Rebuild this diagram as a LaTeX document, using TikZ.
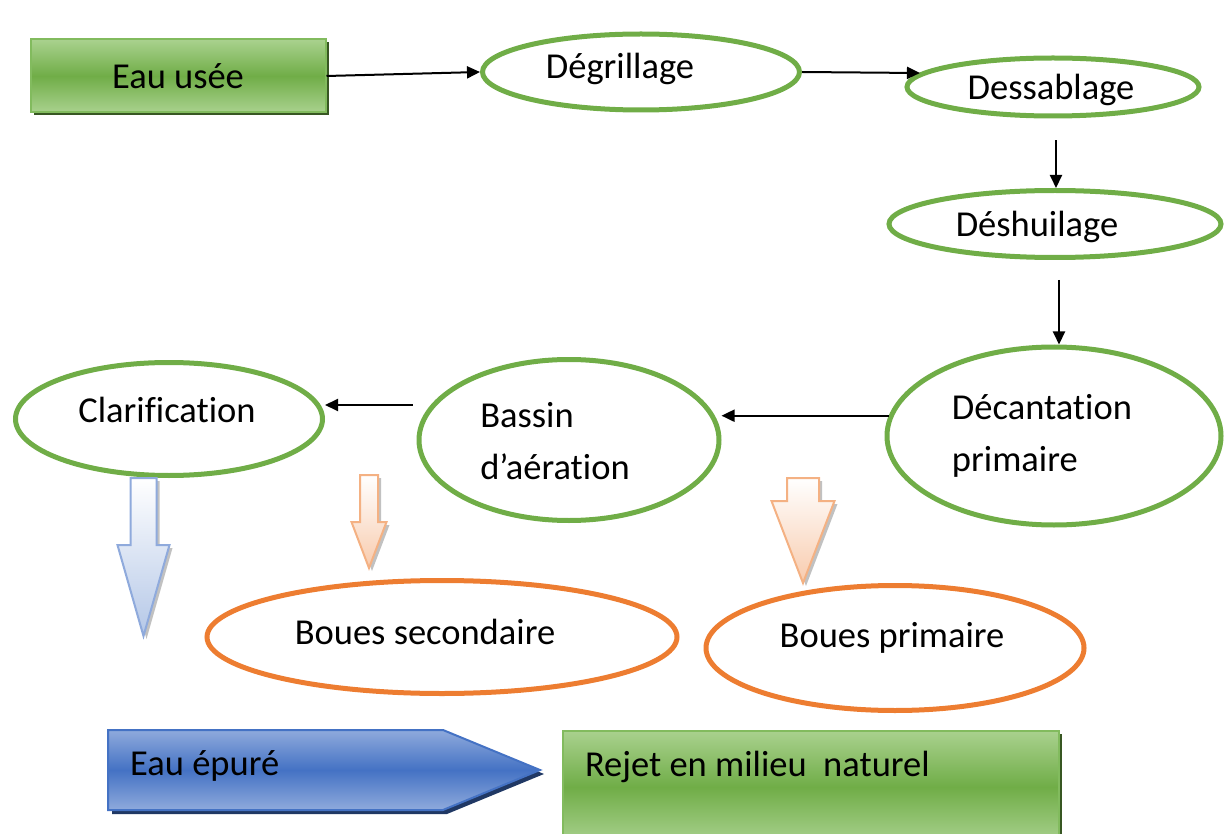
\documentclass[tikz,border=0pt]{standalone}
\usepackage{fontspec}
\setmainfont{Carlito}[Ligatures=NoCommon]
\usepackage{tikz}
\usetikzlibrary{shapes.geometric,shadows,arrows.meta}
\definecolor{leafgreen}{HTML}{70AD47}
\definecolor{lightgreen}{HTML}{A9D18E}
\definecolor{boxedge}{HTML}{82BB5E}
\definecolor{darkgreen}{HTML}{385723}
\definecolor{sludgeorange}{HTML}{ED7D31}
\definecolor{skyedge}{HTML}{8FAADC}
\definecolor{skyfill}{HTML}{B4C7E7}
\definecolor{peachedge}{HTML}{F4B183}
\definecolor{peachfill}{HTML}{F8CBAD}
\definecolor{deepblue}{HTML}{4472C4}
\definecolor{navy}{HTML}{203864}
\tikzstyle{stage} = [ellipse, draw=leafgreen, line width=5pt, inner sep=0pt]
\tikzstyle{sludge} = [ellipse, draw=sludgeorange, line width=5pt, inner sep=0pt]
\tikzstyle{tag} = [align=left, inner sep=0pt]
\tikzstyle{greenbox} = [rectangle, draw=boxedge, line width=2pt, top color=lightgreen, bottom color=lightgreen, middle color=leafgreen, drop shadow={shadow xshift=3pt, shadow yshift=-3pt, fill=darkgreen, opacity=1}]
\tikzstyle{arrow} = [line width=2pt,->,>={Triangle[length=13pt,width=12pt]}]
\tikzstyle{bluedrop} = [draw=skyedge, line width=2pt, top color=white, bottom color=skyfill, drop shadow={shadow xshift=3pt, shadow yshift=-3pt, fill=gray!60, opacity=0.8}]
\tikzstyle{peachdrop} = [draw=peachedge, line width=2pt, top color=white, bottom color=peachfill, drop shadow={shadow xshift=3pt, shadow yshift=-3pt, fill=gray!60, opacity=0.8}]
% style, x centre, shaft half width, top, head start, head half width, tip
\newcommand{\fatarrow}[7]{%
  \path[#1] ({#2-#3},#4) -- ({#2+#3},#4) -- ({#2+#3},#5) -- ({#2+#6},#5) -- (#2,#7) -- ({#2-#6},#5) -- ({#2-#3},#5) -- cycle;}
\begin{document}
\begin{tikzpicture}[x=1pt, y=-1pt, font=\fontsize{36.5}{52}\selectfont]
        \useasboundingbox (0,0) rectangle (1229,834);
        % treatment line
        \node (eau) [greenbox, minimum width=295pt, minimum height=73pt] at (178,76) {Eau usée};
        \node (degr) [stage, minimum width=317pt, minimum height=76pt,
            label={[tag, xshift=-21pt, yshift=3pt]center:Dégrillage}] at (641,72) {};
        \node (dess) [stage, minimum width=292pt, minimum height=58pt,
            label={[tag, xshift=-2pt, yshift=-3pt]center:Dessablage}] at (1053,87) {};
        \node (desh) [stage, minimum width=332pt, minimum height=67pt,
            label={[tag, xshift=-18pt, yshift=-3pt]center:Déshuilage}] at (1055,224) {};
        \node (decant) [stage, minimum width=334pt, minimum height=178pt,
            label={[tag, xshift=-12pt]center:Décantation\\primaire}] at (1054,436) {};
        \node (bassin) [stage, minimum width=300pt, minimum height=161pt,
            label={[tag, xshift=-14pt, yshift=-1pt]center:Bassin\\d’aération}] at (569,440) {};
        \node (clarif) [stage, minimum width=307pt, minimum height=113pt,
            label={[tag, xshift=-2pt, yshift=9pt]center:Clarification}] at (169,419) {};
        % sludge
        \node (bsec) [sludge, minimum width=470pt, minimum height=113pt,
            label={[tag, xshift=-17pt, yshift=5pt]center:Boues secondaire}] at (442,637) {};
        \node (bprim) [sludge, minimum width=378pt, minimum height=125pt,
            label={[tag, xshift=-3pt, yshift=10pt]center:Boues primaire}] at (895,648) {};
        \draw [arrow] (eau.east) -- (degr.west);
        \draw [arrow] (degr.east) -- (dess.174);
        \draw [arrow, shorten <=22pt] ([xshift=3pt]dess.south) -- ([xshift=3pt]dess.south |- desh.north);
        \draw [arrow, shorten <=20pt] ([xshift=4pt]desh.south) -- ([xshift=4pt]desh.south |- decant.north);
        \draw [arrow] (decant.173) -- (decant.173 -| bassin.east);
        \draw [arrow] ([yshift=35pt]bassin.west) ++(-4,0) -- ([yshift=35pt]bassin.west -| clarif.east);
        % block arrows
        \fatarrow{bluedrop}{143.5}{13}{478}{545}{26}{636}
        \fatarrow{peachdrop}{369}{9}{475}{522}{17.5}{568}
        \fatarrow{peachdrop}{803}{16}{478}{501}{31.5}{583}
        % outlet
        \path [draw=deepblue, line width=2pt, top color=skyedge, bottom color=skyedge, middle color=deepblue, drop shadow={shadow xshift=4pt, shadow yshift=-4pt, fill=navy, opacity=1}]
            (108,730) -- (443,730) -- (540,770) -- (443,810) -- (108,810) -- cycle;
        \node (epure) [anchor=base west, inner sep=0pt] at (130,775) {Eau épuré};
        \node (rejet) [greenbox, anchor=north west, text width=452pt, inner xsep=22pt, inner ysep=20pt, text depth=47pt, align=left] at (562,730) {{\spaceskip=0pt\xspaceskip=0pt Rejet en milieu\ \ naturel}};
    \end{tikzpicture}
\end{document}
